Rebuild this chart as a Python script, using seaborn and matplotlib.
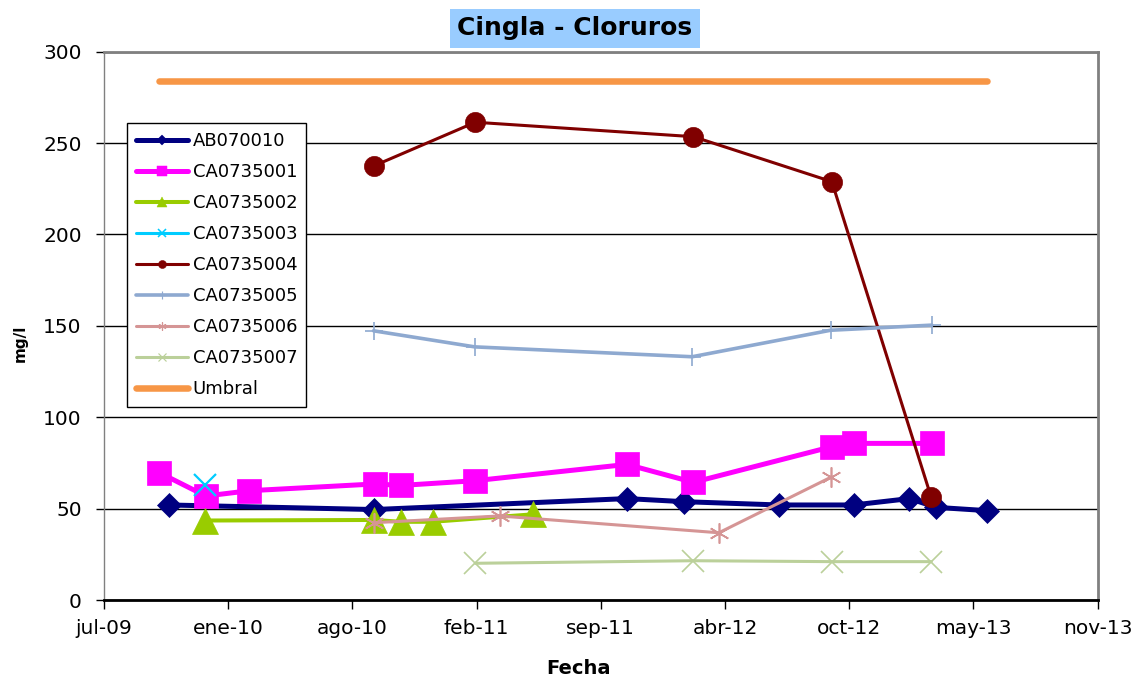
import matplotlib
matplotlib.use("Agg")
import matplotlib.pyplot as plt
from matplotlib.lines import Line2D
import pandas as pd
import seaborn as sns

# Datos (mg/l de cloruros)
fechas_ab = ['2009-10-19', '2010-09-14', '2011-10-26', '2012-01-26', '2012-06-27',
             '2012-10-25', '2013-01-23', '2013-03-07', '2013-05-28']
valores_ab = [52.0, 49.5, 55.5, 53.8, 52.0, 52.0, 55.5, 50.7, 48.9]

fechas_001 = ['2009-10-03', '2009-12-17', '2010-02-25', '2010-09-15', '2010-10-28', '2011-02-24',
              '2011-10-26', '2012-02-10', '2012-09-20', '2012-10-25', '2013-02-28']
valores_001 = [69.7, 56.9, 59.8, 63.5, 62.7, 65.3, 74.2, 64.4, 83.9, 85.7, 85.7]

fechas_002 = ['2009-12-16', '2010-09-14', '2010-10-27', '2010-12-17', '2011-05-28']
valores_002 = [43.5, 43.8, 42.8, 42.8, 46.9]

fechas_003 = ['2009-12-16']
valores_003 = [62.9]

fechas_004 = ['2010-09-14', '2011-02-24', '2012-02-10', '2012-09-20', '2013-02-27']
valores_004 = [237.6, 261.4, 253.5, 228.9, 56.2]

fechas_005 = ['2010-09-13', '2011-02-23', '2012-02-08', '2012-09-18', '2013-02-28']
valores_005 = [147.3, 138.5, 133.1, 147.6, 150.4]

fechas_006 = ['2010-09-14', '2011-04-04', '2012-03-22', '2012-09-18']
valores_006 = [42.3, 46.0, 36.8, 67.1]

fechas_007 = ['2011-02-24', '2012-02-09', '2012-09-20', '2013-02-27']
valores_007 = [20.1, 21.5, 21.0, 21.0]

fechas_umbral = ['2009-10-03', '2013-05-28']
valores_umbral = [284, 284]

nombres = ['AB070010', 'CA0735001', 'CA0735002', 'CA0735003', 'CA0735004',
           'CA0735005', 'CA0735006', 'CA0735007', 'Umbral']
meses = ['ene', 'feb', 'mar', 'abr', 'may', 'jun', 'jul', 'ago', 'sep', 'oct', 'nov', 'dic']

series = [
    (fechas_ab, valores_ab), (fechas_001, valores_001), (fechas_002, valores_002),
    (fechas_003, valores_003), (fechas_004, valores_004), (fechas_005, valores_005),
    (fechas_006, valores_006), (fechas_007, valores_007), (fechas_umbral, valores_umbral),
]

# estilo de cada serie: color, marcador, tam. marcador, grosor linea, grosor borde
estilos = [
    ('#000080', 'D', 12.5, 3.6, 0.5),
    ('#FF00FF', 's', 17, 3.6, 0.5),
    ('#99CC00', '^', 18.5, 2.9, 0.5),
    ('#00CCFF', 'x', 16, 2.2, 1.6),
    ('#800000', 'o', 14.5, 2.2, 0.5),
    ('#8EA9D0', '+', 13.5, 2.6, 1.2),
    ('#D59595', (6, 2, 0), 14.5, 2.2, 1.2),
    ('#BBD09A', 'x', 16, 2.2, 1.2),
    ('#F79646', None, 0, 4.7, 0),
]

sns.set_style("white")
plt.rcParams['font.family'] = ['DejaVu Sans']
plt.rcParams['text.color'] = 'black'
plt.rcParams['xtick.color'] = 'black'
plt.rcParams['ytick.color'] = 'black'
plt.rcParams['axes.labelcolor'] = 'black'

fig = plt.figure(figsize=(11.39, 6.82), dpi=100)
ax = fig.add_axes([0.0913, 0.1202, 0.8724, 0.804])

for (f, v), (color, marker, ms, lw, mew) in zip(series, estilos):
    df = pd.DataFrame({'Fecha': pd.to_datetime(f), 'valor': v})
    sns.lineplot(data=df, x='Fecha', y='valor', ax=ax, color=color, marker=marker,
                 markersize=ms, linewidth=lw, markeredgecolor=color,
                 markeredgewidth=mew, estimator=None, legend=False)

# ejes
inicio = pd.Timestamp('2009-07-06')
ticks = pd.date_range(inicio, periods=9, freq='200D')
ax.set_xlim(ticks[0], ticks[-1])
ax.set_xticks(ticks)
ax.set_xticklabels([f"{meses[t.month - 1]}-{t.strftime('%y')}" for t in ticks])
ax.set_ylim(0, 300)
ax.set_yticks(range(0, 301, 50))
ax.set_xlabel('')
ax.set_ylabel('')

ax.set_axisbelow(True)
ax.yaxis.grid(True, color='black', linewidth=1)
ax.xaxis.grid(False)
ax.tick_params(axis='y', labelsize=14.5, direction='out', length=6, width=1,
               color='black', labelcolor='black', pad=10, left=True)
ax.tick_params(axis='x', labelsize=14.5, direction='out', length=6.5, width=1,
               color='black', labelcolor='black', pad=7, bottom=True)

for lado in ['top', 'right', 'left']:
    ax.spines[lado].set_color('#808080')
ax.spines['left'].set_linewidth(1)
ax.spines['top'].set_linewidth(2)
ax.spines['right'].set_linewidth(2)
ax.spines['bottom'].set_color('black')
ax.spines['bottom'].set_linewidth(2)

# leyenda con marcadores pequenos
handles = []
for (color, marker, ms, lw, mew) in estilos:
    handles.append(Line2D([], [], color=color, lw=lw, marker=marker,
                          markersize=ms * 0.4, markeredgecolor=color,
                          markeredgewidth=mew * 0.7))
leg = ax.legend(handles, nombres, loc='upper left', bbox_to_anchor=(0.0228, 0.8694),
                borderaxespad=0, fontsize=13, frameon=True, fancybox=False,
                framealpha=1, edgecolor='black', handlelength=2.9,
                handletextpad=0.25, labelspacing=0.72, borderpad=0.5)
leg.get_frame().set_linewidth(1)
for t in leg.get_texts():
    t.set_color('black')

# titulo y rotulos
fig.text(575 / 1139, 1 - 28.5 / 682, 'Cingla - Cloruros', ha='center', va='center',
         fontsize=18, fontweight='bold', color='black',
         bbox=dict(boxstyle='square,pad=0.3', facecolor='#99CCFF', edgecolor='none'))
fig.text(579 / 1139, 1 - 669 / 682, 'Fecha', ha='center', va='center',
         fontsize=14, fontweight='bold', color='black')
fig.text(20 / 1139, 1 - 343 / 682, 'mg/l', ha='center', va='center', rotation=90,
         fontsize=11, fontweight='bold', color='black')

fig.savefig('out.png', dpi=100)
